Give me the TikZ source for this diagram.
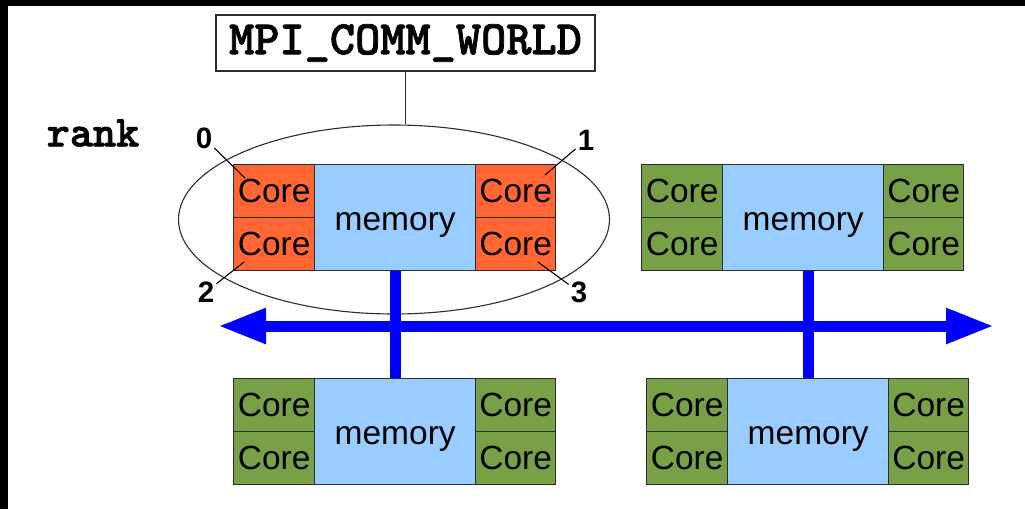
\documentclass[tikz,border=0pt]{standalone}
\usepackage{fontspec}
\setmainfont{Liberation Sans}
\newfontfamily\heavymono{lmmonolt10-bold.otf}[FakeBold=1.6]
\usetikzlibrary{shapes.geometric,arrows.meta,calc}

\definecolor{coreorange}{RGB}{255,102,51}
\definecolor{coregreen}{RGB}{120,160,70}
\definecolor{memblue}{RGB}{153,204,255}
\definecolor{busblue}{RGB}{0,0,255}
\definecolor{edgegray}{RGB}{45,45,45}

\tikzset{
  cell/.style={draw=edgegray, line width=1.4pt, inner sep=0pt, anchor=north west,
    font=\fontsize{33.5}{36}\selectfont},
  corecell/.style={cell, minimum width=81pt, minimum height=53pt},
  memcell/.style={cell, fill=memblue, minimum width=161pt, minimum height=106pt,
    text height=26pt, text depth=0pt},
  bus/.style={busblue, line width=11pt},
  buswide/.style={bus, {Triangle[length=48pt,width=33pt]}-{Triangle[length=48pt,width=33pt]}},
  ranklabel/.style={font=\bfseries\fontsize{29.5}{31}\selectfont, inner sep=2pt},
  leader/.style={line width=1.1pt, black},
  mono/.style={font=\heavymono\fontsize{#1}{#1}\selectfont},
}

% one shared-memory node: four cores around a memory block
% #1 name, #2 left x, #3 top y, #4 core colour
\newcommand\smpnode[4]{%
  \node[corecell, fill=#4] (#1c0) at (#2,#3) {Core};
  \node[corecell, fill=#4] (#1c2) at (#2,#3+53) {Core};
  \node[memcell] (#1m) at (#2+81,#3) {memory};
  \node[corecell, fill=#4, minimum width=80pt] (#1c1) at (#2+242,#3) {Core};
  \node[corecell, fill=#4, minimum width=80pt] (#1c3) at (#2+242,#3+53) {Core};
}

\begin{document}
\begin{tikzpicture}[x=1pt,y=-1pt]
  \useasboundingbox (0,0) rectangle (1025,509);
  \fill[white] (0,0) rectangle (1025,509);
  \fill[black] (0,0) rectangle (8,509);
  \fill[black] (0,0) rectangle (1025,6);

  % communicator
  \node[draw=edgegray, line width=1.1pt, ellipse, minimum width=431pt,
        minimum height=189pt, inner sep=0pt] (world) at (394,219.5) {};
  \node[draw=edgegray, line width=1.3pt, minimum width=379pt, minimum height=56pt,
        inner sep=0pt, mono=48] (comm) at (405.5,43) {MPI\_COMM\_WORLD};
  \draw[edgegray, line width=1.1pt] (comm.south) -- (comm.south |- world.north);

  \node[mono=44, inner sep=0pt] (rank) at (93,133) {rank};

  % nodes
  \smpnode{a}{233}{164}{coreorange}
  \smpnode{b}{641}{164}{coregreen}
  \smpnode{c}{233}{378}{coregreen}
  \smpnode{d}{646}{378}{coregreen}

  % interconnect
  \coordinate (busL) at (218,326);
  \coordinate (busR) at (994,326);
  \draw[buswide] (busL) -- (busR);
  \draw[bus] (am.south) -- (am.south |- cm.north);
  \draw[bus] (dm.north) -- (dm.north |- bm.south);

  % rank numbers
  \node[ranklabel] (r0) at (204,138) {0};
  \node[ranklabel] (r1) at (586,140) {1};
  \node[ranklabel] (r2) at (206,292) {2};
  \node[ranklabel] (r3) at (579,292) {3};
  \coordinate (p0) at (245,178);
  \coordinate (p1) at (545,175);
  \coordinate (p2) at (244,262);
  \coordinate (p3) at (538,262);
  \draw[leader] (r0) -- (p0);
  \draw[leader] (r1) -- (p1);
  \draw[leader] (r2) -- (p2);
  \draw[leader] (r3) -- (p3);
\end{tikzpicture}
\end{document}
